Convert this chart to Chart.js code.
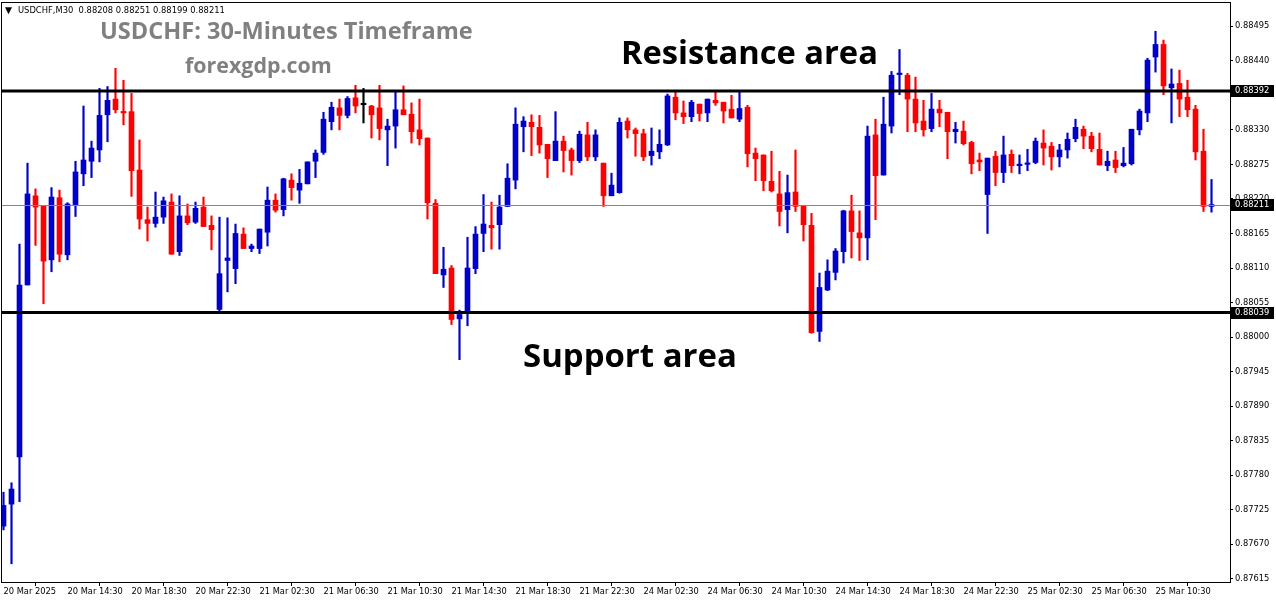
<!DOCTYPE html>
<html>
<head>
<meta charset="utf-8">
<script src="https://cdn.jsdelivr.net/npm/chart.js@4.4.1/dist/chart.umd.min.js"></script>
<style>
  html, body { margin: 0; padding: 0; background: #fff; }
</style>
</head>
<body>
<canvas id="myChart" width="1276" height="604"></canvas>
<script>
const BLUE = 'rgb(0, 0, 204)';
const RED = 'rgb(255, 0, 0)';
const BLACK = '#000000';
const GREY_LINE = '#778899';
const GREY_TEXT = '#808080';
const AXIS_FONT = 'DejaVu Sans';

// USDCHF M30 candles, 20 Mar 10:30 -> 25 Mar 14:00
const OPEN = [
    0.87699, 0.87734, 0.87809, 0.88083, 0.88225, 0.88209, 0.88123, 0.88222, 0.88131, 0.88211,
    0.88260, 0.88280, 0.88298, 0.88354, 0.88379, 0.88359, 0.88359, 0.88266, 0.88187, 0.88181,
    0.88191, 0.88215, 0.88136, 0.88193, 0.88183, 0.88207, 0.88178, 0.88044, 0.88122, 0.88109,
    0.88164, 0.88141, 0.88141, 0.88167, 0.88218, 0.88203, 0.88250, 0.88234, 0.88244, 0.88280,
    0.88294, 0.88343, 0.88365, 0.88353, 0.88381, 0.88370, 0.88368, 0.88365, 0.88330, 0.88336,
    0.88362, 0.88355, 0.88330, 0.88317, 0.88213, 0.88099, 0.88110, 0.88029, 0.88038, 0.88109,
    0.88165, 0.88178, 0.88179, 0.88208, 0.88250, 0.88335, 0.88342, 0.88334, 0.88307, 0.88281,
    0.88312, 0.88298, 0.88281, 0.88322, 0.88287, 0.88277, 0.88225, 0.88230, 0.88344, 0.88330,
    0.88324, 0.88289, 0.88295, 0.88306, 0.88382, 0.88357, 0.88351, 0.88371, 0.88357, 0.88377,
    0.88374, 0.88363, 0.88347, 0.88366, 0.88293, 0.88290, 0.88248, 0.88228, 0.88203, 0.88231,
    0.88209, 0.88178, 0.88009, 0.88075, 0.88103, 0.88136, 0.88201, 0.88166, 0.88158, 0.88322,
    0.88258, 0.88336, 0.88418, 0.88417, 0.88379, 0.88344, 0.88332, 0.88363, 0.88358, 0.88327,
    0.88328, 0.88310, 0.88282, 0.88227, 0.88288, 0.88262, 0.88291, 0.88273, 0.88275, 0.88278,
    0.88309, 0.88304, 0.88287, 0.88298, 0.88316, 0.88331, 0.88320, 0.88299, 0.88273, 0.88282,
    0.88273, 0.88276, 0.88330, 0.88357, 0.88446, 0.88466, 0.88397, 0.88404, 0.88382, 0.88363,
    0.88296, 0.88208
];
const HIGH = [
    0.87753, 0.87768, 0.88148, 0.88277, 0.88236, 0.88209, 0.88238, 0.88234, 0.88214, 0.88280,
    0.88368, 0.88312, 0.88396, 0.88399, 0.88428, 0.88409, 0.88388, 0.88314, 0.88207, 0.88231,
    0.88223, 0.88228, 0.88225, 0.88212, 0.88215, 0.88223, 0.88193, 0.88191, 0.88190, 0.88180,
    0.88174, 0.88148, 0.88172, 0.88239, 0.88228, 0.88253, 0.88260, 0.88267, 0.88279, 0.88298,
    0.88358, 0.88374, 0.88379, 0.88383, 0.88401, 0.88396, 0.88369, 0.88401, 0.88347, 0.88390,
    0.88400, 0.88373, 0.88379, 0.88317, 0.88219, 0.88143, 0.88114, 0.88043, 0.88159, 0.88176,
    0.88227, 0.88215, 0.88226, 0.88276, 0.88365, 0.88351, 0.88354, 0.88353, 0.88307, 0.88359,
    0.88320, 0.88301, 0.88328, 0.88342, 0.88330, 0.88277, 0.88261, 0.88349, 0.88349, 0.88333,
    0.88331, 0.88333, 0.88330, 0.88387, 0.88391, 0.88376, 0.88377, 0.88371, 0.88379, 0.88390,
    0.88374, 0.88385, 0.88390, 0.88369, 0.88301, 0.88290, 0.88296, 0.88264, 0.88258, 0.88298,
    0.88210, 0.88197, 0.88102, 0.88123, 0.88141, 0.88202, 0.88226, 0.88201, 0.88336, 0.88347,
    0.88382, 0.88423, 0.88458, 0.88420, 0.88414, 0.88377, 0.88388, 0.88377, 0.88358, 0.88342,
    0.88344, 0.88312, 0.88293, 0.88285, 0.88296, 0.88320, 0.88298, 0.88290, 0.88299, 0.88317,
    0.88330, 0.88310, 0.88307, 0.88325, 0.88347, 0.88336, 0.88326, 0.88325, 0.88296, 0.88296,
    0.88302, 0.88331, 0.88363, 0.88444, 0.88487, 0.88473, 0.88427, 0.88425, 0.88409, 0.88369,
    0.88331, 0.88251
];
const LOW = [
    0.87693, 0.87639, 0.87738, 0.88083, 0.88146, 0.88053, 0.88104, 0.88120, 0.88123, 0.88192,
    0.88241, 0.88254, 0.88279, 0.88311, 0.88357, 0.88338, 0.88224, 0.88172, 0.88153, 0.88175,
    0.88181, 0.88132, 0.88130, 0.88179, 0.88181, 0.88176, 0.88139, 0.88040, 0.88072, 0.88085,
    0.88141, 0.88136, 0.88133, 0.88145, 0.88199, 0.88193, 0.88218, 0.88213, 0.88244, 0.88254,
    0.88291, 0.88330, 0.88330, 0.88349, 0.88357, 0.88341, 0.88317, 0.88314, 0.88273, 0.88301,
    0.88354, 0.88309, 0.88306, 0.88188, 0.88101, 0.88079, 0.88020, 0.87964, 0.88018, 0.88101,
    0.88136, 0.88140, 0.88140, 0.88208, 0.88236, 0.88295, 0.88289, 0.88293, 0.88254, 0.88281,
    0.88263, 0.88258, 0.88278, 0.88281, 0.88281, 0.88208, 0.88225, 0.88229, 0.88317, 0.88288,
    0.88281, 0.88274, 0.88284, 0.88305, 0.88346, 0.88340, 0.88343, 0.88344, 0.88343, 0.88369,
    0.88341, 0.88349, 0.88343, 0.88271, 0.88249, 0.88233, 0.88231, 0.88177, 0.88166, 0.88200,
    0.88153, 0.88006, 0.87993, 0.88074, 0.88091, 0.88118, 0.88126, 0.88122, 0.88123, 0.88187,
    0.88258, 0.88325, 0.88386, 0.88327, 0.88327, 0.88320, 0.88327, 0.88335, 0.88284, 0.88309,
    0.88306, 0.88260, 0.88265, 0.88165, 0.88241, 0.88246, 0.88262, 0.88260, 0.88265, 0.88276,
    0.88274, 0.88266, 0.88271, 0.88285, 0.88311, 0.88300, 0.88295, 0.88274, 0.88265, 0.88262,
    0.88271, 0.88274, 0.88322, 0.88343, 0.88422, 0.88386, 0.88341, 0.88351, 0.88351, 0.88282,
    0.88200, 0.88199
];
const CLOSE = [
    0.87732, 0.87758, 0.88083, 0.88228, 0.88207, 0.88121, 0.88223, 0.88132, 0.88212, 0.88263,
    0.88282, 0.88301, 0.88353, 0.88377, 0.88362, 0.88357, 0.88265, 0.88188, 0.88181, 0.88191,
    0.88217, 0.88132, 0.88193, 0.88182, 0.88205, 0.88176, 0.88171, 0.88101, 0.88126, 0.88165,
    0.88141, 0.88145, 0.88172, 0.88218, 0.88202, 0.88252, 0.88238, 0.88245, 0.88279, 0.88293,
    0.88347, 0.88366, 0.88353, 0.88380, 0.88368, 0.88370, 0.88354, 0.88332, 0.88336, 0.88362,
    0.88354, 0.88327, 0.88316, 0.88214, 0.88101, 0.88108, 0.88028, 0.88036, 0.88110, 0.88164,
    0.88180, 0.88174, 0.88207, 0.88253, 0.88339, 0.88344, 0.88335, 0.88306, 0.88284, 0.88312,
    0.88297, 0.88281, 0.88323, 0.88287, 0.88322, 0.88225, 0.88242, 0.88342, 0.88330, 0.88324,
    0.88287, 0.88296, 0.88307, 0.88384, 0.88357, 0.88351, 0.88374, 0.88356, 0.88379, 0.88373,
    0.88360, 0.88349, 0.88364, 0.88292, 0.88284, 0.88249, 0.88233, 0.88200, 0.88230, 0.88208,
    0.88179, 0.88007, 0.88079, 0.88105, 0.88137, 0.88201, 0.88168, 0.88158, 0.88320, 0.88257,
    0.88339, 0.88417, 0.88420, 0.88379, 0.88341, 0.88330, 0.88363, 0.88357, 0.88327, 0.88331,
    0.88308, 0.88276, 0.88279, 0.88285, 0.88262, 0.88290, 0.88273, 0.88275, 0.88277, 0.88312,
    0.88301, 0.88287, 0.88298, 0.88315, 0.88334, 0.88320, 0.88300, 0.88274, 0.88280, 0.88270,
    0.88277, 0.88331, 0.88360, 0.88441, 0.88466, 0.88400, 0.88403, 0.88379, 0.88362, 0.88295,
    0.88208, 0.88211
];

// one time label every 8 bars
const X_LABELS = [
    '20 Mar 2025', '20 Mar 14:30', '20 Mar 18:30', '20 Mar 22:30', '21 Mar 02:30',
    '21 Mar 06:30', '21 Mar 10:30', '21 Mar 14:30', '21 Mar 18:30', '21 Mar 22:30',
    '24 Mar 02:30', '24 Mar 06:30', '24 Mar 10:30', '24 Mar 14:30', '24 Mar 18:30',
    '24 Mar 22:30', '25 Mar 02:30', '25 Mar 06:30', '25 Mar 10:30'
];
const X_LABEL_STEP = 8;

const Y_TICKS = [
    0.87615, 0.87670, 0.87725, 0.87780, 0.87835, 0.87890, 0.87945, 0.88000, 0.88055,
    0.88110, 0.88165, 0.88220, 0.88275, 0.88330, 0.88385, 0.88440, 0.88495
];

const RESISTANCE = 0.88392;
const SUPPORT = 0.88039;
const LAST_PRICE = 0.88211;

const HEADER = 'USDCHF,M30  0.88208 0.88251 0.88199 0.88211';
const TITLE = 'USDCHF: 30-Minutes Timeframe';
const SITE = 'forexgdp.com';
const RESISTANCE_TEXT = 'Resistance area';
const SUPPORT_TEXT = 'Support area';

function candleColor(i) {
    if (CLOSE[i] > OPEN[i]) return BLUE;
    if (CLOSE[i] < OPEN[i]) return RED;
    return BLACK;
}

function fitText(c, text, x, y, width, weight, family, color) {
    c.font = `${weight} 100px "${family}"`;
    const size = 100 * width / c.measureText(text).width;
    c.font = `${weight} ${size}px "${family}"`;
    c.fillStyle = color;
    c.textAlign = 'left';
    c.textBaseline = 'alphabetic';
    c.fillText(text, x, y);
}

function priceBox(c, area, y, value) {
    const py = Math.round(y.getPixelForValue(value));
    c.fillStyle = BLACK;
    c.fillRect(area.right + 1, py - 6, 43, 12);
    c.fillStyle = '#ffffff';
    c.font = `8.3px "${AXIS_FONT}"`;
    c.textAlign = 'left';
    c.textBaseline = 'middle';
    c.fillText(value.toFixed(5), area.right + 5, py);
}

const overlay = {
    id: 'overlay',
    afterDatasetsDraw(chart) {
        const c = chart.ctx;
        const a = chart.chartArea;
        const y = chart.scales.y;
        c.save();
        // bid line
        let py = Math.round(y.getPixelForValue(LAST_PRICE)) + 0.5;
        c.strokeStyle = GREY_LINE;
        c.lineWidth = 1;
        c.beginPath();
        c.moveTo(a.left, py);
        c.lineTo(a.right, py);
        c.stroke();
        // support / resistance
        c.strokeStyle = BLACK;
        c.lineWidth = 3;
        [RESISTANCE, SUPPORT].forEach(v => {
            py = y.getPixelForValue(v);
            c.beginPath();
            c.moveTo(a.left, py);
            c.lineTo(a.right, py);
            c.stroke();
        });
        c.restore();
    },
    afterDraw(chart) {
        const c = chart.ctx;
        const a = chart.chartArea;
        const y = chart.scales.y;
        c.save();
        // frame
        c.strokeStyle = BLACK;
        c.lineWidth = 1;
        c.strokeRect(a.left - 0.5, a.top - 0.5, a.right - a.left + 1, a.bottom - a.top + 1);

        priceBox(c, a, y, RESISTANCE);
        priceBox(c, a, y, LAST_PRICE);
        priceBox(c, a, y, SUPPORT);

        fitText(c, '\u25BC', 5, 13, 7, 'normal', AXIS_FONT, BLACK);
        fitText(c, HEADER, 18, 13, 207, 'normal', AXIS_FONT, BLACK);
        fitText(c, TITLE, 100, 39, 373, 'bold', 'Open Sans', GREY_TEXT);
        fitText(c, SITE, 185, 72.5, 147, 'bold', 'Open Sans', GREY_TEXT);
        fitText(c, RESISTANCE_TEXT, 621, 64, 257, 'bold', 'Open Sans', BLACK);
        fitText(c, SUPPORT_TEXT, 523, 367, 214, 'bold', 'Open Sans', BLACK);
        c.restore();
    }
};

var ctx = document.getElementById('myChart').getContext('2d');
const bars = OPEN.map((_, i) => i);

new Chart(ctx, {
    type: 'bar',
    data: {
        datasets: [
            {
                label: 'wick',
                data: bars.map(i => ({ x: i, y: [LOW[i], HIGH[i]] })),
                backgroundColor: c => candleColor(c.dataIndex),
                barThickness: 1.5,
                grouped: false,
                order: 2
            },
            {
                label: 'body',
                data: bars.map(i => ({ x: i, y: [OPEN[i], CLOSE[i]] })),
                backgroundColor: c => candleColor(c.dataIndex),
                barThickness: 5,
                minBarLength: 1.5,
                grouped: false,
                order: 1
            }
        ]
    },
    options: {
        responsive: false,
        animation: false,
        devicePixelRatio: 1,
        layout: { padding: { left: 2, top: 3, right: 0, bottom: 0 } },
        plugins: {
            legend: { display: false },
            tooltip: { enabled: false }
        },
        scales: {
            x: {
                type: 'linear',
                position: 'bottom',
                offset: false,
                min: -0.1875,
                max: 153.3125,
                afterBuildTicks: axis => {
                    axis.ticks = X_LABELS.map((_, j) => ({ value: j * X_LABEL_STEP }));
                },
                afterFit: axis => {
                    axis.height = 22;
                    axis.paddingLeft = 0;
                    axis.paddingRight = 0;
                },
                ticks: {
                    autoSkip: false,
                    maxRotation: 0,
                    minRotation: 0,
                    align: 'start',
                    padding: 1,
                    color: BLACK,
                    font: { family: AXIS_FONT, size: 8.3 },
                    callback: (v, i) => X_LABELS[i]
                },
                grid: { drawOnChartArea: false, drawTicks: true, tickLength: 4, color: BLACK },
                border: { display: true, color: BLACK, width: 1 }
            },
            y: {
                position: 'right',
                min: 0.87610,
                max: 0.88532,
                afterBuildTicks: axis => {
                    axis.ticks = Y_TICKS.map(v => ({ value: v }));
                },
                afterFit: axis => {
                    axis.width = 46;
                    axis.paddingTop = 0;
                    axis.paddingBottom = 0;
                },
                ticks: {
                    padding: 2,
                    color: BLACK,
                    font: { family: AXIS_FONT, size: 8.3 },
                    callback: v => v.toFixed(5)
                },
                grid: { drawOnChartArea: false, drawTicks: true, tickLength: 3, color: BLACK },
                border: { display: true, color: BLACK, width: 1 }
            }
        }
    },
    plugins: [overlay]
});
</script>
</body>
</html>
